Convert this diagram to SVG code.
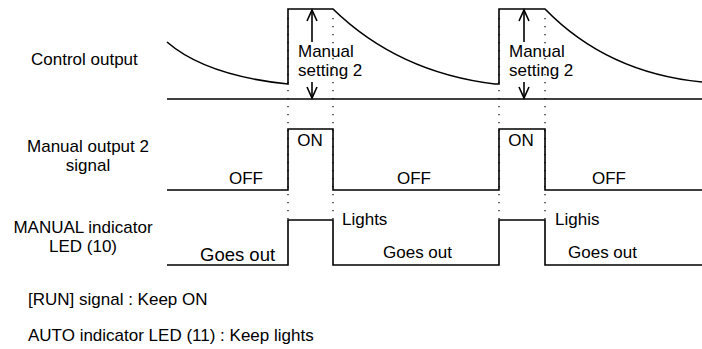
<svg xmlns="http://www.w3.org/2000/svg" width="702" height="349" viewBox="0 0 702 349">
<defs>
<style>
text{font-family:"Liberation Sans",Arial,sans-serif;font-size:17px;fill:#000}
.w{fill:none;stroke:#000;stroke-width:1.6}
.d{fill:none;stroke:#000;stroke-width:1.2;stroke-dasharray:1.2 6.8}
.a{fill:none;stroke:#000;stroke-width:1.6}
.m{text-anchor:middle}
</style>
</defs>
<rect width="702" height="349" fill="#fff"/>
<g id="guides">
<line class="d" x1="288" y1="18" x2="288" y2="220"/>
<line class="d" x1="333" y1="18" x2="333" y2="220"/>
<line class="d" x1="499" y1="18" x2="499" y2="220"/>
<line class="d" x1="545" y1="18" x2="545" y2="220"/>
</g>
<g id="control-output">
<text x="31" y="65">Control output</text>
<line class="w" x1="167" y1="99" x2="702" y2="99"/>
<path class="w" d="M167,42 C190,62 230,78 288,84 V9 H333 C370,45 420,75 495,84 L499,84 V9 H545 C580,45 630,75 702,82"/>
<g id="arrow1">
<line class="a" x1="312" y1="10" x2="312" y2="42"/>
<path class="a" d="M307,21 L312,10 L317,21"/>
<line class="a" x1="312" y1="82" x2="312" y2="98"/>
<path class="a" d="M307,87 L312,98 L317,87"/>
<text x="298" y="57">Manual</text>
<text x="298" y="76">setting 2</text>
</g>
<g id="arrow2">
<line class="a" x1="524" y1="10" x2="524" y2="42"/>
<path class="a" d="M519,21 L524,10 L529,21"/>
<line class="a" x1="524" y1="82" x2="524" y2="98"/>
<path class="a" d="M519,87 L524,98 L529,87"/>
<text x="509" y="57">Manual</text>
<text x="509" y="76">setting 2</text>
</g>
</g>
<g id="manual-output-2">
<text class="m" x="88" y="152">Manual output 2</text>
<text class="m" x="88" y="171">signal</text>
<path class="w" d="M167,190 H288 V129 H333 V190 H499 V129 H545 V190 H702"/>
<text class="m" x="246" y="184">OFF</text>
<text class="m" x="310" y="146">ON</text>
<text class="m" x="414" y="184">OFF</text>
<text class="m" x="521" y="146">ON</text>
<text class="m" x="609" y="184">OFF</text>
</g>
<g id="manual-led">
<text class="m" x="83" y="233">MANUAL indicator</text>
<text class="m" x="83" y="252">LED (10)</text>
<path class="w" d="M167,265 H288 V220 H333 V265 H499 V220 H545 V265 H702"/>
<text x="200" y="261" style="font-size:18.5px">Goes out</text>
<text x="342" y="225">Lights</text>
<text x="383" y="258">Goes out</text>
<text x="555" y="225">Lighis</text>
<text x="568" y="258">Goes out</text>
</g>
<g id="notes">
<text x="28" y="305">[RUN] signal : Keep ON</text>
<text x="28" y="341">AUTO indicator LED (11) : Keep lights</text>
</g>
</svg>
